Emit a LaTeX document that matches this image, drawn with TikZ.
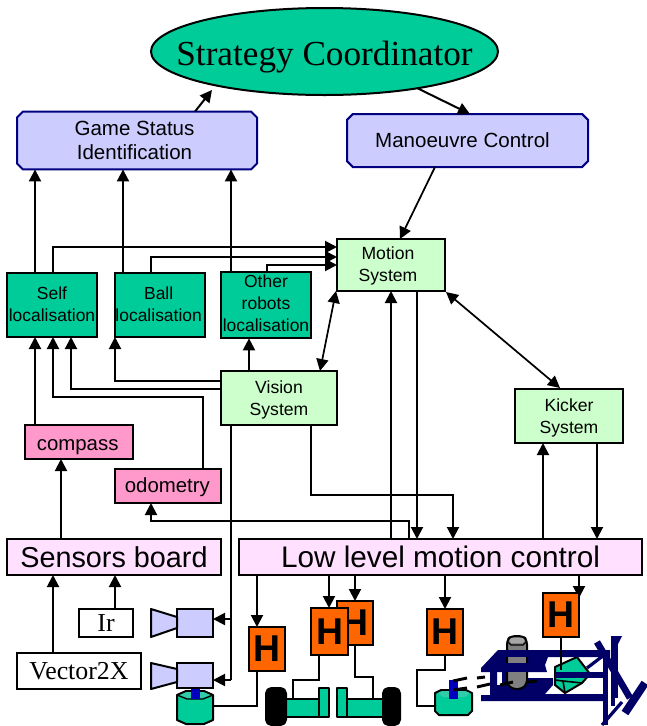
\documentclass[tikz,border=0pt]{standalone}
\usepackage{fontspec}
\setmainfont{Liberation Serif}
\newfontfamily\arialf{Liberation Sans}
\usetikzlibrary{arrows.meta,shapes.geometric,shapes.misc,backgrounds}
\definecolor{tealg}{HTML}{00CC99}
\definecolor{lav}{HTML}{CCCCFF}
\definecolor{lgreen}{HTML}{CCFFCC}
\definecolor{pinkb}{HTML}{FF99CC}
\definecolor{lpink}{HTML}{FFE0FF}
\definecolor{orangeh}{HTML}{FF6600}
\definecolor{navyk}{HTML}{000066}
\definecolor{navyb}{HTML}{000080}
\definecolor{greyc}{HTML}{808080}
\definecolor{greyt}{HTML}{A6A6A6}
\definecolor{lteal}{HTML}{33CCAA}
\tikzset{
  base/.style={draw=black,line width=1.5pt,inner sep=0pt,outer sep=0pt,align=center,text=black},
  plan/.style={base,chamfered rectangle,chamfered rectangle xsep=2.2pt,chamfered rectangle ysep=2.2pt,fill=lav,draw=navyb,font=\arialf\fontsize{15.4}{18}\selectfont},
  sysbox/.style={base,fill=lgreen,font=\arialf\fontsize{13.2}{16.5}\selectfont},
  locbox/.style={base,fill=tealg,font=\arialf\fontsize{13.1}{16.5}\selectfont},
  pinkbox/.style={base,fill=pinkb,font=\arialf\fontsize{15.3}{18}\selectfont},
  lowbox/.style={base,fill=lpink,font=\arialf\fontsize{#1}{26}\selectfont},
  whitebox/.style={base,fill=white,font=\fontsize{19.4}{22}\selectfont},
  hbox/.style={base,fill=orangeh},
  arr/.style={line width=1.5pt,-{Triangle[length=9pt,width=9pt]}},
  darr/.style={line width=1.3pt,{Triangle[length=9pt,width=9pt]}-{Triangle[length=9pt,width=9pt]}},
  wire/.style={line width=1.5pt},
  part/.style={draw=black,line width=1.5pt,line join=round},
  navypart/.style={fill=navyk,draw=none},
  navyline/.style={draw=navyk},
}
\newcommand{\rectnode}[7][]{%
  \pgfmathsetmacro{\rw}{(#5-#3)*0.75}\pgfmathsetmacro{\rh}{(#6-#4)*0.75}%
  \pgfmathsetmacro{\rx}{(#3+#5)/2}\pgfmathsetmacro{\ry}{(#4+#6)/2}%
  \node[#1,minimum width=\rw pt,minimum height=\rh pt] (#2) at (\rx,\ry) {#7};}
% text lowered by half of #1, moved left by half of #2
\newcommand{\tx}[3]{\vbox{\kern#1\hbox{\begin{tabular}{@{}c@{}}#3\end{tabular}\kern#2}}}
\newcommand{\hglyph}{\arialf\bfseries\fontsize{28}{28}\selectfont H}
\begin{document}
\begin{tikzpicture}[x=0.75pt,y=-0.75pt]
\useasboundingbox (0,0) rectangle (647,726);
% main nodes
\rectnode[base,ellipse,fill=tealg,font=\fontsize{26.4}{30}\selectfont]{strat}{151}{8}{498}{95}{\makebox[0pt]{\smash{\raisebox{-10.5pt}{Strategy Coordinator}}}}
\rectnode[plan]{game}{17}{114}{257}{167}{\tx{3pt}{3.75pt}{Game Status\\Identification}}
\rectnode[plan]{manoeuvre}{347}{114}{588}{167}{\tx{3pt}{7.5pt}{Manoeuvre Control}}
\rectnode[sysbox]{motion}{337}{239}{445}{291}{\tx{2pt}{4.5pt}{Motion\\System}}
\rectnode[sysbox]{vision}{221}{371}{337}{425}{\tx{3pt}{0pt}{Vision\\System}}
\rectnode[sysbox]{kicker}{515}{389}{623}{443}{\tx{3pt}{0pt}{Kicker\\System}}
\rectnode[locbox]{self}{7}{273}{97}{337}{\tx{1.5pt}{0pt}{Self\\localisation}}
\rectnode[locbox]{ball}{115}{273}{205}{337}{\tx{1.5pt}{2pt}{Ball\\localisation}}
\rectnode[locbox]{other}{221}{273}{311}{337}{\tx{0.5pt}{0pt}{Other\\robots\\localisation}}
\rectnode[pinkbox]{compass}{25}{425}{133}{459}{\tx{5pt}{2pt}{compass}}
\rectnode[pinkbox]{odometry}{115}{469}{221}{503}{\tx{3pt}{1pt}{odometry}}
\rectnode[lowbox=21.6]{sensors}{7}{539}{221}{575}{Sensors board}
\rectnode[lowbox=22.3]{low}{239}{539}{642}{575}{Low level motion control}
\rectnode[whitebox]{ir}{79}{609}{133}{637}{Ir}
\rectnode[whitebox]{vector}{17}{653}{141}{689}{Vector2X}
\rectnode[hbox]{hone}{249}{627}{285}{671}{\hglyph}
\rectnode[hbox]{hthree}{337}{601}{373}{645}{\hglyph}
\rectnode[hbox]{htwo}{311}{608}{348}{655}{\hglyph}
\rectnode[hbox]{hfour}{427}{609}{463}{655}{\hglyph}
\rectnode[hbox]{hfive}{543}{593}{579}{637}{\hglyph}
% cameras
\rectnode[base,fill=lav]{camone}{177}{609}{213}{637}{}
\rectnode[base,fill=lav]{camtwo}{177}{663}{213}{688}{}
\draw[part,fill=lav] (151,609) -- (camone.west |- 0,617) -- (camone.west |- 0,628) -- (151,637) -- cycle;
\draw[part,fill=lav] (151,663) -- (camtwo.west |- 0,669) -- (camtwo.west |- 0,682) -- (151,689) -- cycle;
% drive motor under the camera
\draw[part,fill=tealg] (177,695) -- (186,691) -- (204,691) -- (213,695) -- (213,720) -- (204,724) -- (186,724) -- (177,720) -- cycle;
\fill[lteal] (180,695) -- (187,692) -- (203,692) -- (210,695) -- (203,698) -- (187,698) -- cycle;
\draw[black,line width=1pt] (177,695) -- (187,699) -- (203,699) -- (213,695);
\fill[blue!75!black] (191,689) rectangle (200,699);
% wheels
\draw[part,fill=tealg] (286,699) rectangle (319,717);
\coordinate (axleleft) at (293,699);
\draw[part,fill=tealg] (319,688) rectangle (329,717);
\draw[part,fill=black,rounded corners=4pt] (266,688) rectangle (286,725);
\draw[part,fill=tealg] (347,699) rectangle (383,717);
\coordinate (axleright) at (373,699);
\draw[part,fill=tealg] (337,688) rectangle (347,717);
\draw[part,fill=black,rounded corners=4pt] (383,688) rectangle (400,725);
% kicker solenoid
\draw[part,fill=tealg] (435,693) -- (441,690) -- (466,690) -- (472,693) -- (472,711) -- (468,715) -- (439,715) -- (435,711) -- cycle;
\fill[lteal] (438,693) -- (443,691) -- (465,691) -- (470,693) -- (465,697) -- (443,697) -- cycle;
\coordinate (solenoid) at (435,706);
\fill[blue!75!black] (449,680) rectangle (458,699);
\draw[black,line width=2.2pt] (453,681) -- (467,678);
\draw[black,line width=2.2pt] (453,690) -- (467,688);
% kicker mechanism
\draw[part,fill=tealg] (555,667) -- (577,657) -- (590,674) -- (582,683) -- (565,693) -- (555,685) -- cycle;
\draw[black,line width=1.2pt] (563,681) -- (565,693);
\draw[black,line width=1.2pt] (555,680) -- (563,681) -- (582,683);
\fill[navypart] (498,650) -- (610,650) -- (610,657) -- (548,657) -- (545,665) -- (547,672) -- (481,672) -- (481,668) -- cycle;
\fill[navypart] (490,672) -- (497,672) -- (497,685) -- (502,685) -- (502,672) -- (527,672) -- (527,678) -- (553,678) -- (553,685) -- (545,694) -- (607,694) -- (607,701) -- (481,701) -- (481,695) -- (490,695) -- cycle;
\fill[navypart] (555,672) rectangle (607,678);
\draw[part,fill=greyc,rounded corners=3pt] (507,640) -- (511,636) -- (523,636) -- (527,640) -- (527,684) -- (522,689) -- (512,689) -- (507,684) -- cycle;
\fill[greyt,rounded corners=1pt] (510,638) rectangle (524,643);
\draw[black,line width=1pt] (507,641) -- (511,645) -- (523,645) -- (527,641);
\fill[navypart] (498,650) rectangle (560,657);
\fill[navypart] (490,663) rectangle (545,672);
\draw[black,line width=2.2pt] (477,678) -- (485,677);
\draw[black,line width=2.2pt] (477,687) -- (490,684);
\draw[black,line width=2.2pt] (500,685) -- (513,682);
\draw[black,line width=2.2pt] (527,682) -- (537,681);
\draw[navyline,line width=2.4pt] (587,668) -- (608,652);
\draw[navyline,line width=2.4pt] (622,702) -- (602,725);
\draw[navyline,line width=3.8pt] (605.5,650) -- (605.5,725);
\draw[navyline,line width=5pt] (614.5,636) -- (614.5,698);
\draw[navyline,line width=3pt] (613,698) -- (613,706);
\fill[navypart] (611,636) -- (622,636) -- (618,644) -- (611,644) -- cycle;
\draw[navyline,line width=5pt] (597,642) -- (630,698);
\draw[navyline,line width=6pt] (645,683) -- (625,713);
% connectors
\draw[arr] (195,0 |- game.north) -- (212,90);
\draw[arr] (417,88) -- (470,0 |- manoeuvre.north);
\draw[line width=1.3pt,-{Triangle[length=9pt,width=9pt]}] (435,0 |- manoeuvre.south) -- (400,0 |- motion.north);
\draw[arr] (35,0 |- self.north) -- (35,0 |- game.south);
\draw[arr] (123,0 |- ball.north) -- (123,0 |- game.south);
\draw[arr] (231,0 |- other.north) -- (231,0 |- game.south);
\draw[arr] (53,0 |- self.north) |- (motion.west |- 0,247);
\draw[arr] (151,0 |- ball.north) |- (motion.west |- 0,257);
\draw[arr] (267,0 |- other.north) |- (motion.west |- 0,265);
\draw[darr] (336,0 |- motion.south) -- (320,0 |- vision.north);
\draw[arr] (35,0 |- compass.north) -- (35,0 |- self.south);
\draw[arr] (203,0 |- odometry.north) |- (53,397) -- (53,0 |- self.south);
\draw[arr] (vision.west |- 0,389) -| (71,0 |- self.south);
\draw[arr] (vision.west |- 0,381) -| (ball.south west);
\draw[arr] (249,0 |- vision.north) -- (249,0 |- other.south);
\draw[arr] (61,0 |- sensors.north) -- (61,0 |- compass.south);
\draw[arr] (53,0 |- vector.north) -- (53,0 |- sensors.south);
\draw[arr] (115,0 |- ir.north) -- (115,0 |- sensors.south);
\draw[wire] (231,0 |- vision.south) -- (231,680);
\draw[arr] (231,619) -- (camone.east |- 0,619);
\draw[arr] (231,680) -- (camtwo.east |- 0,680);
\draw[arr] (311,0 |- vision.south) |- (453,495) -- (453,0 |- low.north);
\draw[arr] (409,0 |- low.north) |- (151,521) -- (151,0 |- odometry.south);
\draw[arr] (391,0 |- low.north) -- (391,0 |- motion.south);
\draw[arr] (417,0 |- motion.south) -- (417,0 |- low.north);
\draw[darr] (446,292) -- (560,388);
\draw[arr] (543,0 |- low.north) -- (543,0 |- kicker.south);
\draw[arr] (597,442) -- (597,0 |- low.north);
\draw[arr] (257,0 |- low.south) -- (257,0 |- hone.north);
\draw[arr] (329,0 |- low.south) -- (329,0 |- htwo.north);
\draw[arr] (355,0 |- low.south) -- (355,0 |- hthree.north);
\draw[arr] (445,0 |- low.south) -- (445,0 |- hfour.north);
\begin{scope}[on background layer]
\draw[arr] (579,0 |- low.south) -- (579,598);
\end{scope}
\draw[wire] (257,0 |- hone.south) |- (213,706);
\draw[wire] (319,0 |- htwo.south) |- (293,680) -- (axleleft);
\draw[wire] (355,0 |- hthree.south) |- (373,677) -- (axleright);
\draw[wire] (445,0 |- hfour.south) |- (417,670) |- (solenoid);
\draw[line width=1.2pt] (561,0 |- hfive.south) -- (561,670);
\end{tikzpicture}
\end{document}
